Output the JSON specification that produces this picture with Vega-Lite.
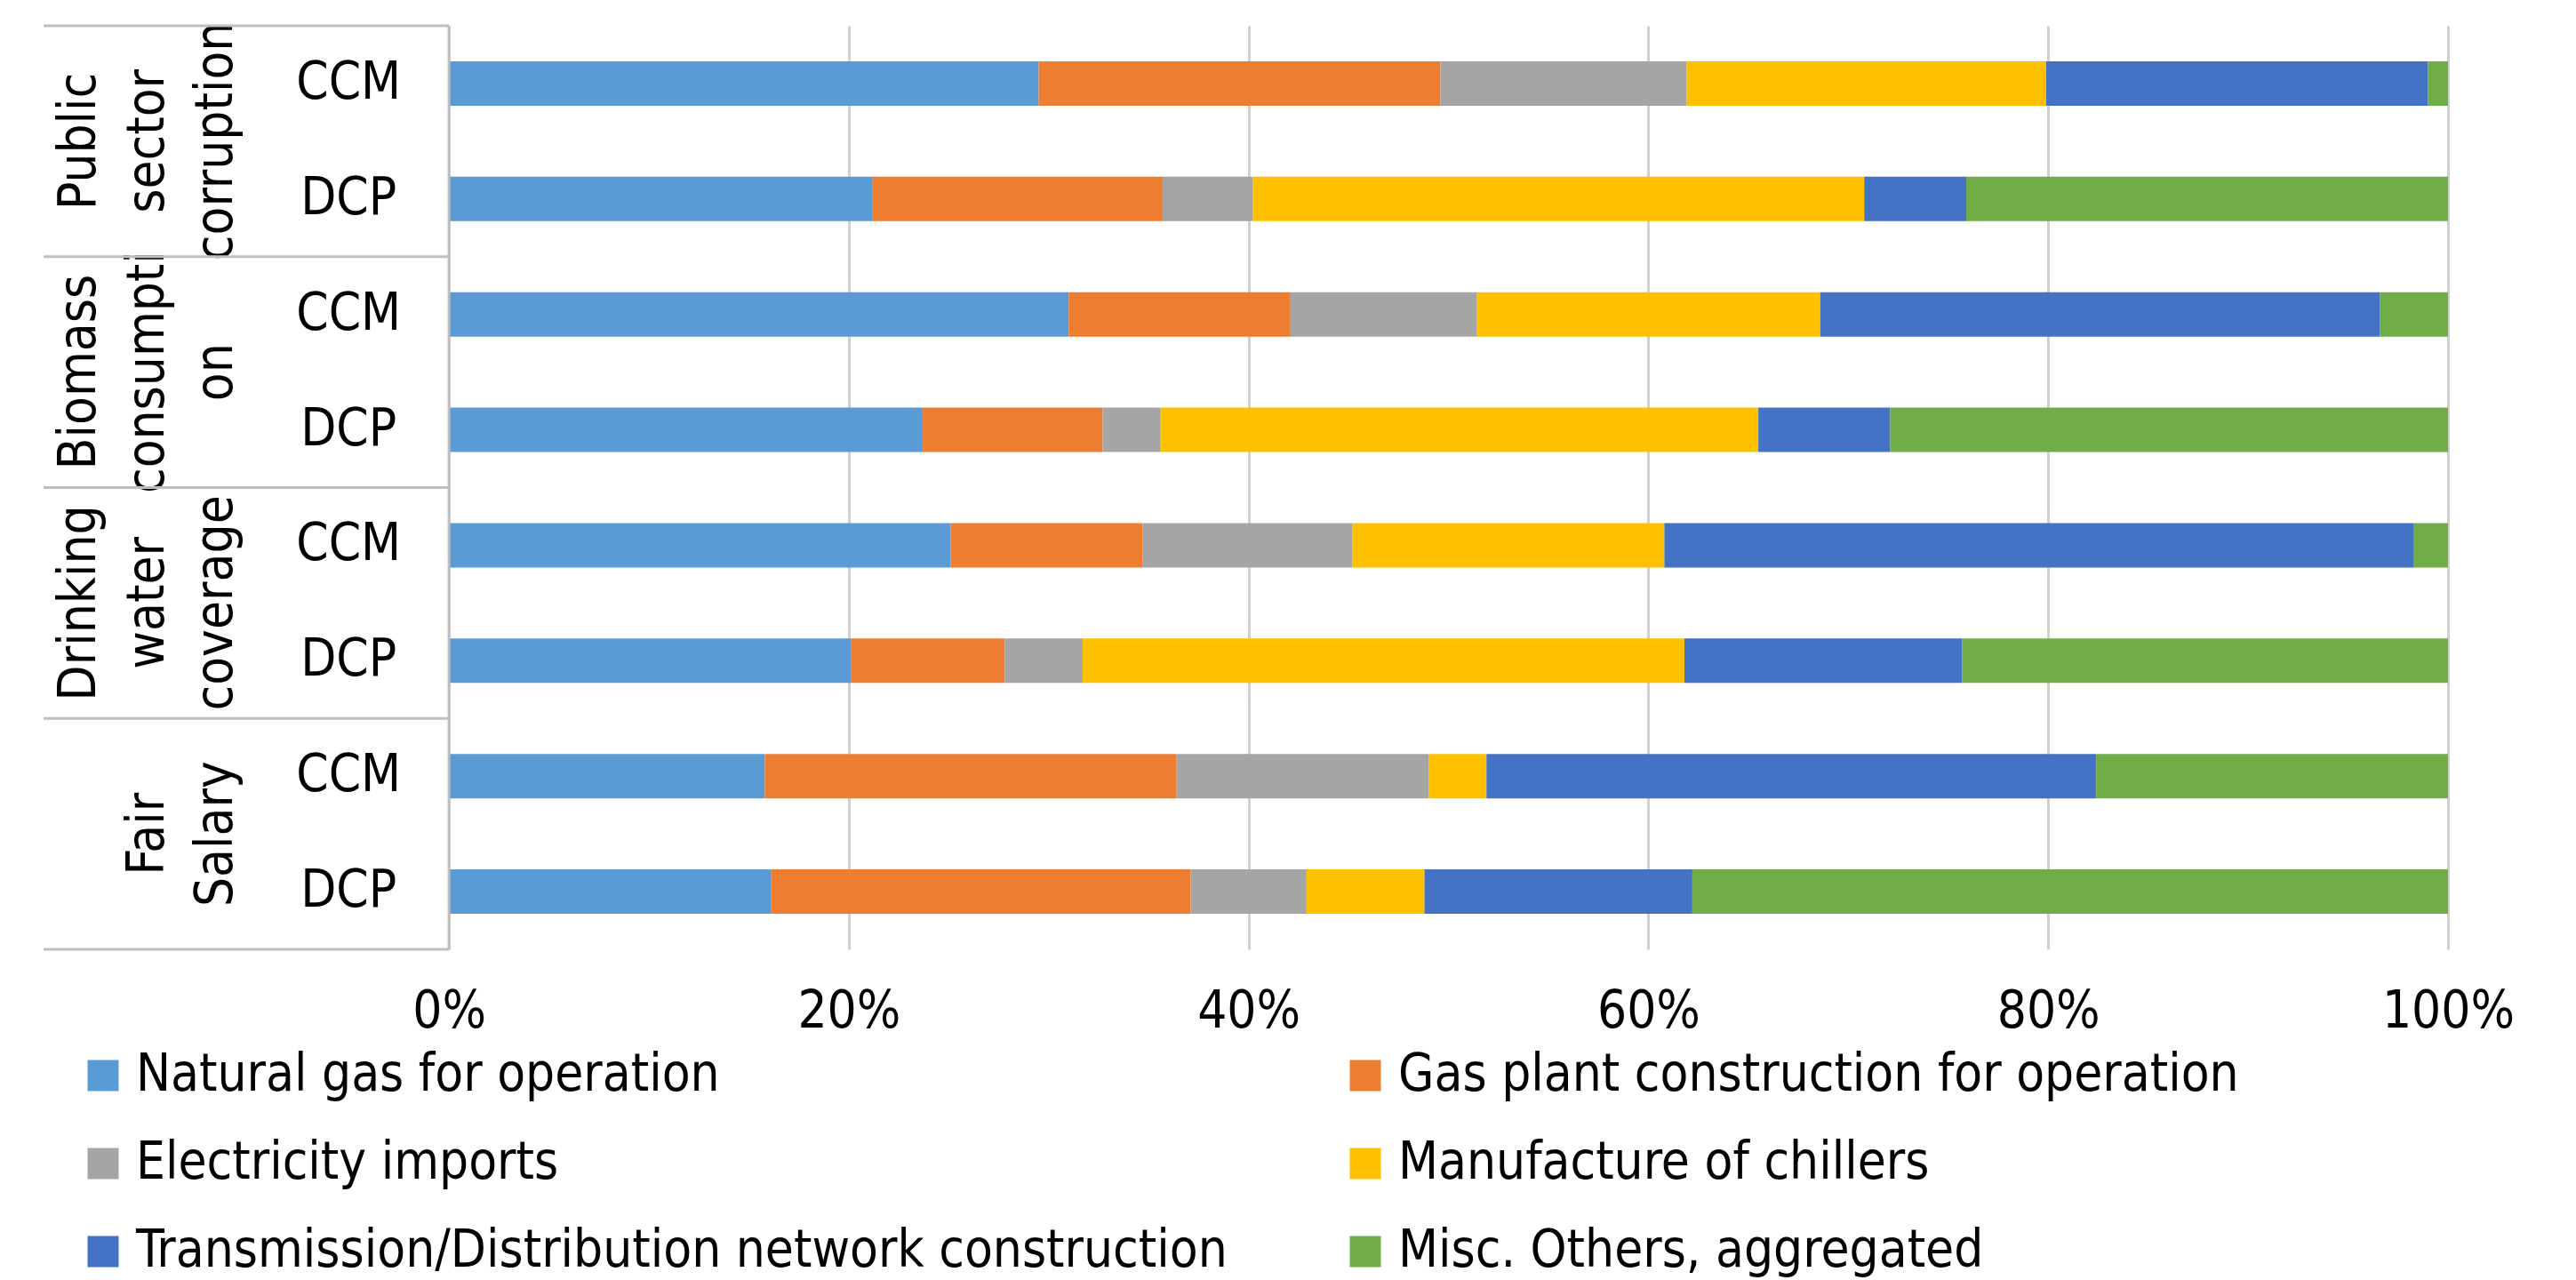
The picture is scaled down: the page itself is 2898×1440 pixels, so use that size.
{
  "$schema": "https://vega.github.io/schema/vega-lite/v6.json",
  "width": 2705,
  "height": 1039,
  "padding": {"left": 47, "top": 24, "right": 0, "bottom": 6},
  "background": "white",
  "config": {
    "view": {"stroke": null},
    "font": "DejaVu Sans Condensed, DejaVu Sans",
    "text": {"font": "DejaVu Sans Condensed, DejaVu Sans"}
  },
  "datasets": {
    "shares": [
      {"group": "Public sector corruption", "method": "CCM", "source": "Natural gas for operation", "share": 29.5},
      {"group": "Public sector corruption", "method": "CCM", "source": "Gas plant construction for operation", "share": 20.1},
      {"group": "Public sector corruption", "method": "CCM", "source": "Electricity imports", "share": 12.3},
      {"group": "Public sector corruption", "method": "CCM", "source": "Manufacture of chillers", "share": 18.0},
      {"group": "Public sector corruption", "method": "CCM", "source": "Transmission/Distribution network construction", "share": 19.1},
      {"group": "Public sector corruption", "method": "CCM", "source": "Misc. Others, aggregated", "share": 1.0},
      {"group": "Public sector corruption", "method": "DCP", "source": "Natural gas for operation", "share": 21.2},
      {"group": "Public sector corruption", "method": "DCP", "source": "Gas plant construction for operation", "share": 14.5},
      {"group": "Public sector corruption", "method": "DCP", "source": "Electricity imports", "share": 4.5},
      {"group": "Public sector corruption", "method": "DCP", "source": "Manufacture of chillers", "share": 30.6},
      {"group": "Public sector corruption", "method": "DCP", "source": "Transmission/Distribution network construction", "share": 5.1},
      {"group": "Public sector corruption", "method": "DCP", "source": "Misc. Others, aggregated", "share": 24.1},
      {"group": "Biomass consumption", "method": "CCM", "source": "Natural gas for operation", "share": 31.0},
      {"group": "Biomass consumption", "method": "CCM", "source": "Gas plant construction for operation", "share": 11.1},
      {"group": "Biomass consumption", "method": "CCM", "source": "Electricity imports", "share": 9.3},
      {"group": "Biomass consumption", "method": "CCM", "source": "Manufacture of chillers", "share": 17.2},
      {"group": "Biomass consumption", "method": "CCM", "source": "Transmission/Distribution network construction", "share": 28.0},
      {"group": "Biomass consumption", "method": "CCM", "source": "Misc. Others, aggregated", "share": 3.4},
      {"group": "Biomass consumption", "method": "DCP", "source": "Natural gas for operation", "share": 23.7},
      {"group": "Biomass consumption", "method": "DCP", "source": "Gas plant construction for operation", "share": 9.0},
      {"group": "Biomass consumption", "method": "DCP", "source": "Electricity imports", "share": 2.9},
      {"group": "Biomass consumption", "method": "DCP", "source": "Manufacture of chillers", "share": 29.9},
      {"group": "Biomass consumption", "method": "DCP", "source": "Transmission/Distribution network construction", "share": 6.6},
      {"group": "Biomass consumption", "method": "DCP", "source": "Misc. Others, aggregated", "share": 27.9},
      {"group": "Drinking water coverage", "method": "CCM", "source": "Natural gas for operation", "share": 25.1},
      {"group": "Drinking water coverage", "method": "CCM", "source": "Gas plant construction for operation", "share": 9.6},
      {"group": "Drinking water coverage", "method": "CCM", "source": "Electricity imports", "share": 10.5},
      {"group": "Drinking water coverage", "method": "CCM", "source": "Manufacture of chillers", "share": 15.6},
      {"group": "Drinking water coverage", "method": "CCM", "source": "Transmission/Distribution network construction", "share": 37.5},
      {"group": "Drinking water coverage", "method": "CCM", "source": "Misc. Others, aggregated", "share": 1.7},
      {"group": "Drinking water coverage", "method": "DCP", "source": "Natural gas for operation", "share": 20.1},
      {"group": "Drinking water coverage", "method": "DCP", "source": "Gas plant construction for operation", "share": 7.7},
      {"group": "Drinking water coverage", "method": "DCP", "source": "Electricity imports", "share": 3.9},
      {"group": "Drinking water coverage", "method": "DCP", "source": "Manufacture of chillers", "share": 30.1},
      {"group": "Drinking water coverage", "method": "DCP", "source": "Transmission/Distribution network construction", "share": 13.9},
      {"group": "Drinking water coverage", "method": "DCP", "source": "Misc. Others, aggregated", "share": 24.3},
      {"group": "Fair Salary", "method": "CCM", "source": "Natural gas for operation", "share": 15.8},
      {"group": "Fair Salary", "method": "CCM", "source": "Gas plant construction for operation", "share": 20.6},
      {"group": "Fair Salary", "method": "CCM", "source": "Electricity imports", "share": 12.6},
      {"group": "Fair Salary", "method": "CCM", "source": "Manufacture of chillers", "share": 2.9},
      {"group": "Fair Salary", "method": "CCM", "source": "Transmission/Distribution network construction", "share": 30.5},
      {"group": "Fair Salary", "method": "CCM", "source": "Misc. Others, aggregated", "share": 17.6},
      {"group": "Fair Salary", "method": "DCP", "source": "Natural gas for operation", "share": 16.1},
      {"group": "Fair Salary", "method": "DCP", "source": "Gas plant construction for operation", "share": 21.0},
      {"group": "Fair Salary", "method": "DCP", "source": "Electricity imports", "share": 5.8},
      {"group": "Fair Salary", "method": "DCP", "source": "Manufacture of chillers", "share": 5.9},
      {"group": "Fair Salary", "method": "DCP", "source": "Transmission/Distribution network construction", "share": 13.4},
      {"group": "Fair Salary", "method": "DCP", "source": "Misc. Others, aggregated", "share": 37.8}
    ],
    "groups": [
      {"group": "Public sector corruption", "label": "Public\nsector\ncorruption"},
      {"group": "Biomass consumption", "label": "Biomass\nconsumpti\non"},
      {"group": "Drinking water coverage", "label": "Drinking\nwater\ncoverage"},
      {"group": "Fair Salary", "label": "\nFair\nSalary"}
    ]
  },
  "layer": [
    {
      "data": {"name": "shares"},
      "transform": [
        {"calculate": "indexof(['Natural gas for operation','Gas plant construction for operation','Electricity imports','Manufacture of chillers','Transmission/Distribution network construction','Misc. Others, aggregated'], datum.source)", "as": "stackOrder"}
      ],
      "mark": {"type": "bar"},
      "encoding": {
        "y": {"field": "group", "type": "nominal", "sort": ["Public sector corruption", "Biomass consumption", "Drinking water coverage", "Fair Salary"], "scale": {"paddingInner": 0, "paddingOuter": 0}, "axis": null},
        "yOffset": {"field": "method", "type": "nominal", "sort": ["CCM", "DCP"], "scale": {"paddingInner": 0.615, "paddingOuter": 0.3075}},
        "x": {
          "field": "share", "type": "quantitative", "stack": "normalize", "title": null,
          "scale": {"domain": [-0.2028, 1], "nice": false, "zero": false},
          "axis": {
            "values": [0, 0.2, 0.4, 0.6, 0.8, 1], "format": ".0%", "title": null, "labelFlush": false,
            "domain": false, "ticks": false, "grid": true, "gridColor": "#D0D0D0", "gridWidth": 3,
            "labelFontSize": 58, "labelColor": "#000000", "labelPadding": 41,
            "labelFont": "DejaVu Sans Condensed, DejaVu Sans"
          }
        },
        "order": {"field": "stackOrder", "type": "quantitative"},
        "color": {
          "field": "source", "type": "nominal",
          "scale": {
            "domain": ["Natural gas for operation", "Gas plant construction for operation", "Electricity imports", "Manufacture of chillers", "Transmission/Distribution network construction", "Misc. Others, aggregated"],
            "range": ["#5B9BD5", "#ED7D31", "#A5A5A5", "#FFC000", "#4472C4", "#70AD47"]
          },
          "legend": {
            "title": null, "orient": "none", "legendX": 38, "legendY": 1152,
            "direction": "horizontal", "columns": 2, "columnPadding": 126, "rowPadding": 41,
            "symbolType": "square", "symbolSize": 1225, "symbolStrokeWidth": 0,
            "labelFontSize": 58, "labelColor": "#000000", "labelOffset": 8, "labelLimit": 3000,
            "labelFont": "DejaVu Sans Condensed, DejaVu Sans"
          }
        }
      }
    },
    {
      "data": {"name": "shares"},
      "transform": [{"filter": "datum.source === 'Natural gas for operation'"}],
      "mark": {"type": "text", "align": "center", "baseline": "middle", "fontSize": 58, "color": "#000000"},
      "encoding": {
        "y": {"field": "group", "type": "nominal", "sort": ["Public sector corruption", "Biomass consumption", "Drinking water coverage", "Fair Salary"]},
        "yOffset": {"field": "method", "type": "nominal", "sort": ["CCM", "DCP"]},
        "x": {"datum": -0.0502, "type": "quantitative", "title": null, "scale": {"domain": [-0.2028, 1], "nice": false, "zero": false},
          "axis": {
            "values": [0, 0.2, 0.4, 0.6, 0.8, 1], "format": ".0%", "title": null, "labelFlush": false,
            "domain": false, "ticks": false, "grid": true, "gridColor": "#D0D0D0", "gridWidth": 3,
            "labelFontSize": 58, "labelColor": "#000000", "labelPadding": 41,
            "labelFont": "DejaVu Sans Condensed, DejaVu Sans"
          }
        },
        "text": {"field": "method"}
      }
    },
    {
      "data": {"name": "groups"},
      "mark": {"type": "text", "align": "center", "baseline": "middle", "angle": 270, "fontSize": 58, "lineHeight": 77, "lineBreak": "\n", "color": "#000000"},
      "encoding": {
        "y": {"field": "group", "type": "nominal", "sort": ["Public sector corruption", "Biomass consumption", "Drinking water coverage", "Fair Salary"]},
        "x": {"datum": -0.1845, "type": "quantitative", "title": null, "scale": {"domain": [-0.2028, 1], "nice": false, "zero": false},
          "axis": {
            "values": [0, 0.2, 0.4, 0.6, 0.8, 1], "format": ".0%", "title": null, "labelFlush": false,
            "domain": false, "ticks": false, "grid": true, "gridColor": "#D0D0D0", "gridWidth": 3,
            "labelFontSize": 58, "labelColor": "#000000", "labelPadding": 41,
            "labelFont": "DejaVu Sans Condensed, DejaVu Sans"
          }
        },
        "text": {"field": "label"}
      }
    },
    {
      "data": {"name": "groups"},
      "mark": {"type": "rule", "color": "#BFBFBF", "strokeWidth": 3},
      "encoding": {
        "y": {"field": "group", "type": "nominal", "bandPosition": 0, "sort": ["Public sector corruption", "Biomass consumption", "Drinking water coverage", "Fair Salary"]},
        "x": {"datum": -0.2028, "type": "quantitative", "title": null, "scale": {"domain": [-0.2028, 1], "nice": false, "zero": false},
          "axis": {
            "values": [0, 0.2, 0.4, 0.6, 0.8, 1], "format": ".0%", "title": null, "labelFlush": false,
            "domain": false, "ticks": false, "grid": true, "gridColor": "#D0D0D0", "gridWidth": 3,
            "labelFontSize": 58, "labelColor": "#000000", "labelPadding": 41,
            "labelFont": "DejaVu Sans Condensed, DejaVu Sans"
          }
        },
        "x2": {"datum": 0}
      }
    },
    {
      "data": {"name": "groups"},
      "transform": [{"filter": "datum.group === 'Fair Salary'"}],
      "mark": {"type": "rule", "color": "#BFBFBF", "strokeWidth": 3},
      "encoding": {
        "y": {"field": "group", "type": "nominal", "bandPosition": 1, "sort": ["Public sector corruption", "Biomass consumption", "Drinking water coverage", "Fair Salary"]},
        "x": {"datum": -0.2028, "type": "quantitative", "title": null, "scale": {"domain": [-0.2028, 1], "nice": false, "zero": false},
          "axis": {
            "values": [0, 0.2, 0.4, 0.6, 0.8, 1], "format": ".0%", "title": null, "labelFlush": false,
            "domain": false, "ticks": false, "grid": true, "gridColor": "#D0D0D0", "gridWidth": 3,
            "labelFontSize": 58, "labelColor": "#000000", "labelPadding": 41,
            "labelFont": "DejaVu Sans Condensed, DejaVu Sans"
          }
        },
        "x2": {"datum": 0}
      }
    },
    {
      "data": {"values": [{}]},
      "mark": {"type": "rule", "color": "#BFBFBF", "strokeWidth": 3},
      "encoding": {
        "x": {"datum": 0, "type": "quantitative", "title": null, "scale": {"domain": [-0.2028, 1], "nice": false, "zero": false},
          "axis": {
            "values": [0, 0.2, 0.4, 0.6, 0.8, 1], "format": ".0%", "title": null, "labelFlush": false,
            "domain": false, "ticks": false, "grid": true, "gridColor": "#D0D0D0", "gridWidth": 3,
            "labelFontSize": 58, "labelColor": "#000000", "labelPadding": 41,
            "labelFont": "DejaVu Sans Condensed, DejaVu Sans"
          }
        }
      }
    }
  ]
}
